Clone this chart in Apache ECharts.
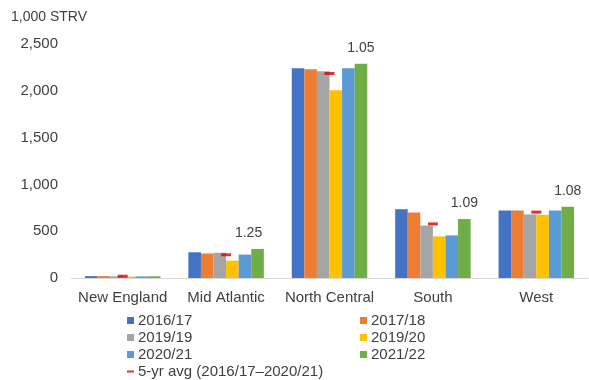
<!DOCTYPE html>
<html>
<head>
<meta charset="utf-8">
<script src="https://cdn.jsdelivr.net/npm/echarts@6/dist/echarts.min.js"></script>
<style>
  html, body { margin: 0; padding: 0; background: #fff; }
  #chart { width: 589px; height: 380px; }
</style>
</head>
<body>
<div id="chart"></div>
<script>
// Regional volumes, 1,000 STRV
const regions = ['New England', 'Mid Atlantic', 'North Central', 'South', 'West'];
const y2016_17 = [20, 275, 2240, 735, 720];
const y2017_18 = [20, 262, 2230, 700, 720];
const y2019_19 = [18, 270, 2210, 560, 680];
const y2019_20 = [15, 185, 2005, 445, 675];
const y2020_21 = [17, 250, 2240, 455, 720];
const y2021_22 = [18, 310, 2290, 630, 760];
// 5-year average 2016/17–2020/21
const avg5yr = [19, 248, 2185, 578, 704];
// 2021/22 relative to the 5-year average
const ratioLabels = ['', '1.25', '1.05', '1.09', '1.08'];
const ratioOffsets = [0, -9, 0, 0, 0];

const FONT = '"Liberation Sans", Arial, sans-serif';
const TEXT = '#404040';
const AVG_NAME = '5-yr avg (2016/17\u20132020/21)';

const yearSeries = [
  { name: '2016/17', data: y2016_17, color: '#4472C4' },
  { name: '2017/18', data: y2017_18, color: '#ED7D31' },
  { name: '2019/19', data: y2019_19, color: '#A5A5A5' },
  { name: '2019/20', data: y2019_20, color: '#FFC000' },
  { name: '2020/21', data: y2020_21, color: '#5B9BD5' },
  { name: '2021/22', data: y2021_22, color: '#70AD47' }
];

const series = yearSeries.map(s => ({
  name: s.name,
  type: 'bar',
  barGap: '0%',
  barCategoryGap: '27%',
  itemStyle: { color: s.color },
  emphasis: { disabled: true },
  data: s.name === '2021/22'
    ? s.data.map((v, i) => ({
        value: v,
        label: {
          show: ratioLabels[i] !== '',
          position: 'top',
          distance: 9,
          offset: [ratioOffsets[i], 0],
          formatter: () => ratioLabels[i],
          fontFamily: FONT,
          fontSize: 14,
          color: TEXT
        }
      }))
    : s.data
}));

series.push({
  name: AVG_NAME,
  type: 'scatter',
  symbol: 'rect',
  symbolSize: [10, 3],
  itemStyle: { color: '#D80000' },
  z: 5,
  emphasis: { disabled: true },
  data: avg5yr
});

const legendText = { fontFamily: FONT, fontSize: 15, color: TEXT, padding: [0, 0, 0, -1] };
const legendBase = {
  orient: 'vertical',
  itemWidth: 7,
  itemHeight: 7,
  itemGap: 2,
  textStyle: legendText
};

const option = {
  animation: false,
  textStyle: { fontFamily: FONT },
  title: {
    text: '1,000 STRV',
    left: 6,
    top: 5,
    textStyle: { fontFamily: FONT, fontSize: 14, fontWeight: 'normal', color: TEXT }
  },
  grid: { left: 71, right: 1, top: 44, bottom: 102, containLabel: false },
  legend: [
    Object.assign({}, legendBase, {
      left: 122,
      top: 308,
      data: [
        { name: '2016/17', icon: 'rect' },
        { name: '2019/19', icon: 'rect' },
        { name: '2020/21', icon: 'rect' }
      ]
    }),
    Object.assign({}, legendBase, {
      left: 122,
      top: 359,
      itemHeight: 2,
      data: [{ name: AVG_NAME, icon: 'rect' }]
    }),
    Object.assign({}, legendBase, {
      left: 355,
      top: 308,
      data: [
        { name: '2017/18', icon: 'rect' },
        { name: '2019/20', icon: 'rect' },
        { name: '2021/22', icon: 'rect' }
      ]
    })
  ],
  xAxis: {
    type: 'category',
    data: regions,
    axisLine: { lineStyle: { color: '#D9D9D9', width: 1 } },
    axisTick: { show: false },
    axisLabel: { interval: 0, fontFamily: FONT, fontSize: 15, color: TEXT, margin: 12 }
  },
  yAxis: {
    type: 'value',
    min: 0,
    max: 2500,
    interval: 500,
    splitLine: { show: false },
    axisLine: { show: false },
    axisTick: { show: false },
    axisLabel: {
      fontFamily: FONT,
      fontSize: 15,
      color: TEXT,
      margin: 13,
      formatter: v => v.toLocaleString('en-US')
    }
  },
  series: series
};

echarts.init(document.getElementById('chart'), null, { renderer: 'canvas' }).setOption(option);
</script>
</body>
</html>
